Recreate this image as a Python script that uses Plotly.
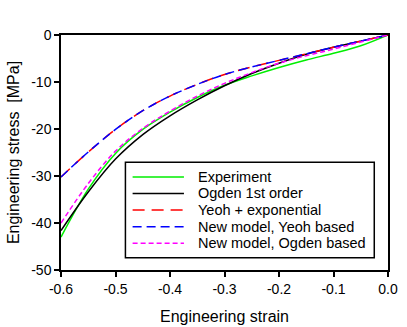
import plotly.graph_objects as go

strain = [-0.6, -0.55, -0.5, -0.45, -0.4, -0.35, -0.3, -0.25, -0.2, -0.15, -0.1, -0.05, 0.0]
experiment = [-43.0, -32.8, -25.2, -20.1, -16.4, -13.3, -10.7, -8.7, -6.9, -5.3, -3.9, -2.3, 0.0]
ogden1 = [-41.6, -33.4, -26.4, -21.2, -17.2, -13.8, -10.8, -8.2, -6.0, -4.1, -2.6, -1.3, 0.0]
yeoh_exp = [-30.2, -24.9, -20.1, -16.1, -13.0, -10.5, -8.4, -6.8, -5.4, -4.0, -2.6, -1.3, 0.0]
new_yeoh = [-30.2, -24.9, -20.1, -16.1, -13.0, -10.5, -8.4, -6.8, -5.4, -4.0, -2.6, -1.3, 0.0]
new_ogden = [-40.0, -31.6, -24.7, -19.9, -16.2, -13.0, -10.3, -8.0, -6.0, -4.4, -3.0, -1.5, 0.0]

x_ticks = [-0.6, -0.5, -0.4, -0.3, -0.2, -0.1, 0.0]
x_ticklabels = ["-0.6", "-0.5", "-0.4", "-0.3", "-0.2", "-0.1", "0.0"]
y_ticks = [0, -10, -20, -30, -40, -50]
y_ticklabels = ["0", "-10", "-20", "-30", "-40", "-50"]

names = ["Experiment", "Ogden 1st order", "Yeoh + exponential",
         "New model, Yeoh based", "New model, Ogden based"]
series = [experiment, ogden1, yeoh_exp, new_yeoh, new_ogden]
colors = ["#00ee00", "#000000", "#ff0000", "#0000ff", "#ff00ff"]
dashes = ["solid", "solid", "12px,7px", "9px,5px", "5px,3px"]

FONT = "Liberation Sans, Arial, sans-serif"

fig = go.Figure()
for name, ys, c, d in zip(names, series, colors, dashes):
    fig.add_trace(go.Scatter(x=strain, y=ys, mode="lines", name=name, showlegend=False,
                             line=dict(color=c, width=1.5, dash=d, shape="spline", smoothing=1.0)))

# legend box (drawn as shapes + text so that row spacing matches)
lx0, lx1, ly0, ly1 = 0.197, 0.958, 0.052, 0.459
fig.add_shape(type="rect", xref="paper", yref="paper", x0=lx0, x1=lx1, y0=ly0, y1=ly1,
              line=dict(color="black", width=1.5), fillcolor="white", layer="above")
row_y = [0.396, 0.326, 0.255, 0.184, 0.114]
for name, c, d, ry in zip(names, colors, dashes, row_y):
    fig.add_shape(type="line", xref="paper", yref="paper", x0=0.219, x1=0.376, y0=ry, y1=ry,
                  line=dict(color=c, width=1.5, dash=d), layer="above")
    fig.add_annotation(xref="paper", yref="paper", x=0.413, y=ry, text=name, showarrow=False,
                       xanchor="left", yanchor="middle",
                       font=dict(family=FONT, size=14.5, color="black"))

axis_common = dict(showline=True, linecolor="black", linewidth=1.5, mirror=True,
                   ticks="outside", ticklen=5, tickwidth=1.5, tickcolor="black",
                   showgrid=False, zeroline=False, automargin=False,
                   tickfont=dict(family=FONT, size=14, color="black"),
                   title_font=dict(family=FONT, size=16, color="black"))

fig.update_layout(
    width=407, height=327,
    margin=dict(l=61, r=19, t=35, b=57),
    paper_bgcolor="white", plot_bgcolor="white",
    font=dict(family=FONT, size=14, color="black"),
    xaxis=dict(range=[-0.6, 0.0], tickvals=x_ticks, ticktext=x_ticklabels,
               title=dict(text="Engineering strain"), **axis_common),
    yaxis=dict(range=[-50, 0], tickvals=y_ticks, ticktext=y_ticklabels,
               title=dict(text="Engineering stress  [MPa]", standoff=8), **axis_common),
    showlegend=False,
)

fig.write_html("out.html", config={"displayModeBar": False},
               post_script="document.body.style.margin='0';document.body.style.padding='0';")
